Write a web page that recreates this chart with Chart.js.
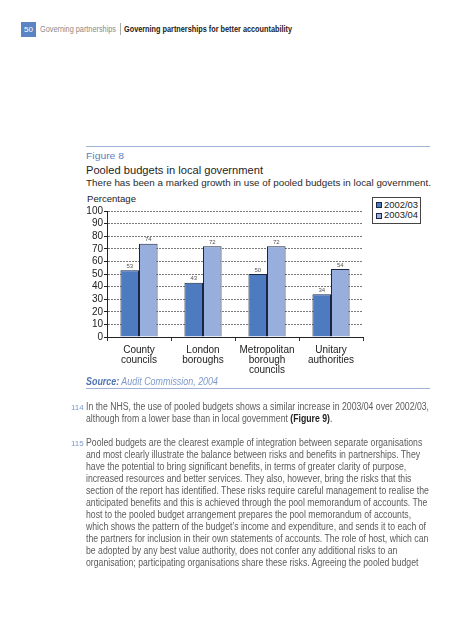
<!DOCTYPE html>
<html><head><meta charset="utf-8">
<script src="https://cdn.jsdelivr.net/npm/chart.js@4"></script>
<style>
html,body{margin:0;padding:0;background:#fff;width:452px;height:640px;overflow:hidden;font-family:"Liberation Sans",Arial,sans-serif;}
.a{position:absolute;white-space:nowrap;transform-origin:0 50%;line-height:1;}
.p{color:#5c5c5c;font-size:10px;}
.num{color:#7c9acc;font-size:8px;}
</style></head><body>
<div class="a" style="left:21px;top:22px;width:15px;height:15px;background:#5b84c4;color:#fff;font-size:8px;line-height:15px;text-align:center;">50</div>
<div class="a fit" data-w="76" style="left:40px;top:25px;font-size:9px;color:#8a8a8a;">Governing partnerships</div>
<div class="a" style="left:120px;top:23px;width:1px;height:12px;background:#aaa;"></div>
<div class="a fit" data-w="168" style="left:124px;top:25px;font-size:9px;color:#222;font-weight:bold;">Governing partnerships for better accountability</div>

<div class="a" style="left:86px;top:145.5px;width:344px;height:1.5px;background:#9fb2d6;"></div>
<div class="a fit" data-w="38" style="left:86px;top:151px;font-size:9.5px;color:#5a80bf;">Figure 8</div>
<div class="a fit" data-w="177" style="left:86px;top:165px;font-size:11px;color:#1e1e1e;">Pooled budgets in local government</div>
<div class="a fit" data-w="345" style="left:86px;top:178px;font-size:9.5px;color:#2a2a2a;">There has been a marked growth in use of pooled budgets in local government.</div>
<div class="a fit" data-w="49" style="left:87px;top:193.5px;font-size:9.5px;color:#222;">Percentage</div>

<div class="a" style="left:372px;top:197px;width:47px;height:25px;border:1px solid #444;background:#fff;"></div>
<div class="a" style="left:376px;top:202px;width:4px;height:4px;border:1px solid #1b2742;background:#4e7bc0;"></div>
<div class="a fit" data-w="34" style="left:384px;top:199.5px;font-size:9.5px;color:#222;">2002/03</div>
<div class="a" style="left:376px;top:212.5px;width:4px;height:4px;border:1px solid #1b2742;background:#98aedd;"></div>
<div class="a fit" data-w="34" style="left:384px;top:210px;font-size:9.5px;color:#222;">2003/04</div>

<div class="a" style="left:60px;top:195px;width:320px;height:185px;"><canvas id="c" width="320" height="185" style="width:320px;height:185px;"></canvas></div>

<div class="a fit" data-w="132" style="left:86px;top:377px;font-size:10px;font-style:italic;color:#7f9bcc;"><b style="color:#4f74b4;">Source:</b> Audit Commission, 2004</div>
<div class="a" style="left:86px;top:387.5px;width:344px;height:1.5px;background:#9fb2d6;"></div>

<div id="paras"></div>

<script>
const categories = [["County","councils"],["London","boroughs"],["Metropolitan","borough","councils"],["Unitary","authorities"]];
const series1Name = "2002/03";
const series2Name = "2003/04";
const series1 = [53, 43, 50, 34];
const series2 = [74, 72, 72, 54];
const yTicks = [0,10,20,30,40,50,60,70,80,90,100];

const para114 = [
 "In the NHS, the use of pooled budgets shows a similar increase in 2003/04 over 2002/03,",
 "although from a lower base than in local government <b style='color:#222'>(Figure 9)</b>."
];
const para115 = [
 "Pooled budgets are the clearest example of integration between separate organisations",
 "and most clearly illustrate the balance between risks and benefits in partnerships. They",
 "have the potential to bring significant benefits, in terms of greater clarity of purpose,",
 "increased resources and better services. They also, however, bring the risks that this",
 "section of the report has identified. These risks require careful management to realise the",
 "anticipated benefits and this is achieved through the pool memorandum of accounts. The",
 "host to the pooled budget arrangement prepares the pool memorandum of accounts,",
 "which shows the pattern of the budget\u2019s income and expenditure, and sends it to each of",
 "the partners for inclusion in their own statements of accounts. The role of host, which can",
 "be adopted by any best value authority, does not confer any additional risks to an",
 "organisation; participating organisations share these risks. Agreeing the pooled budget"
];

const P = document.getElementById('paras');
function addLine(html, top, cls){ const d=document.createElement('div'); d.className='a '+cls; d.style.left='86px'; d.style.top=top+'px'; d.innerHTML=html; P.appendChild(d); return d; }
function addNum(t, top){ const d=document.createElement('div'); d.className='a num'; d.style.left='71px'; d.style.top=(top+1.5)+'px'; d.textContent=t; P.appendChild(d); }
addNum("114", 402);
const first = addLine(para114[0], 402, 'p');
addLine(para114[1], 414, 'p');
addNum("115", 438);
para115.forEach((l,i)=>addLine(l, 438+i*12, 'p'));
const sc = 343 / first.getBoundingClientRect().width;
P.querySelectorAll('.p').forEach(d=>d.style.transform='scaleX('+sc+')');
document.querySelectorAll('.fit').forEach(d=>{ const w=d.getBoundingClientRect().width; d.style.transform='scaleX('+(parseFloat(d.dataset.w)/w)+')'; });

const valueLabels = {
  id:'valueLabels',
  afterDatasetsDraw(chart){
    const ctx = chart.ctx;
    ctx.save();
    ctx.font = '6px "Liberation Sans", Arial';
    ctx.fillStyle = '#555';
    ctx.textAlign = 'center';
    ctx.textBaseline = 'bottom';
    chart.data.datasets.forEach((ds,di)=>{
      chart.getDatasetMeta(di).data.forEach((bar,i)=>{
        ctx.fillText(String(ds.data[i]), bar.x, bar.y - 1);
      });
    });
    ctx.restore();
  }
};

new Chart(document.getElementById('c'), {
  type:'bar',
  data:{
    labels: categories,
    datasets:[
      {label:series1Name, data:series1, backgroundColor:'#4e7bc0', borderColor:'#1b2742', borderWidth:1, barPercentage:1, categoryPercentage:0.58},
      {label:series2Name, data:series2, backgroundColor:'#98aedd', borderColor:'#1b2742', borderWidth:1, barPercentage:1, categoryPercentage:0.58}
    ]
  },
  options:{
    responsive:false, animation:false, devicePixelRatio:1,
    layout:{padding:{top:16,right:17,left:0,bottom:0}},
    plugins:{legend:{display:false}, tooltip:{enabled:false}},
    scales:{
      x:{
        grid:{display:true, drawOnChartArea:false, drawTicks:true, tickLength:4, color:'#333', offset:true},
        border:{display:true, color:'#222', width:1},
        ticks:{font:{family:'"Liberation Sans", Arial', size:10, lineHeight:1.0}, color:'#222', padding:4, maxRotation:0, autoSkip:false},
        afterFit(s){ s.height = 43; }
      },
      y:{
        min:0, max:100,
        afterBuildTicks(s){ s.ticks = yTicks.map(v=>({value:v})); },
        grid:{color:'#7a7a7a', tickColor:'#222', tickLength:3, lineWidth:1},
        border:{display:true, color:'#222', width:1, dash:[2,1]},
        ticks:{font:{family:'"Liberation Sans", Arial', size:10}, color:'#222', padding:1, autoSkip:false},
        afterFit(s){ s.width = 47; }
      }
    }
  },
  plugins:[valueLabels]
});
</script>
</body></html>
